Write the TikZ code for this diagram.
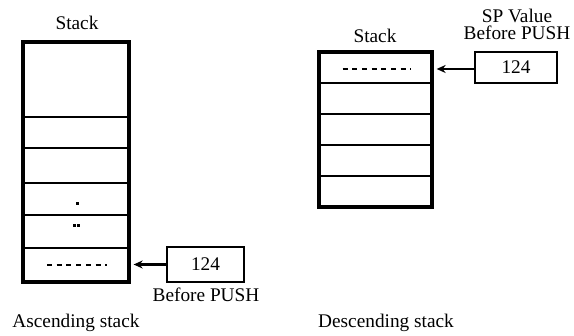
\documentclass[tikz,border=0pt]{standalone}
\usepackage{fontspec}
\setmainfont{Liberation Serif}
\usetikzlibrary{arrows.meta}
\begin{document}
\begin{tikzpicture}[x=1pt,y=-1pt,
  lbl/.style={inner sep=0pt,font=\fontsize{19.3}{22}\selectfont},
  cellL/.style={draw,line width=2.3pt,minimum width=106pt,inner sep=0pt},
  cellR/.style={draw,line width=2.3pt,minimum width=113pt,minimum height=31pt,inner sep=0pt},
  outer/.style={draw,line width=3.3pt,inner sep=0pt},
  valbox/.style={draw,line width=2.7pt,inner sep=0pt,font=\fontsize{19.3}{22}\selectfont},
  ptr/.style={line width=2.3pt,-{Stealth[length=9pt,width=8pt]}},
  dashline/.style={line width=2.3pt,dash pattern=on 5pt off 4.7pt}]
\useasboundingbox (0,0) rectangle (574,336);
% ---- Ascending stack ----
\node[lbl] (lt) at (77,23) {Stack};
\node[cellL,minimum height=75pt] (l1) at (76,79.5) {};
\node[cellL,minimum height=31pt] (l2) at (76,132.5) {};
\node[cellL,minimum height=35pt] (l3) at (76,165.5) {};
\node[cellL,minimum height=32pt] (l4) at (76,199) {};
\node[cellL,minimum height=33pt] (l5) at (76,231.5) {};
\node[cellL,minimum height=34pt] (l6) at (76,265) {};
\node[outer,minimum width=106pt,minimum height=240pt] (lo) at (76,162) {};
\fill (75.6,201.6) rectangle (78.6,204.6);
\fill (73.2,223.6) rectangle (76.2,226.6);
\fill (76.8,223.6) rectangle (79.8,226.6);
\draw[dashline] ([xshift=-29pt]l6.center) -- ([xshift=31pt]l6.center);
\node[valbox,minimum width=77pt,minimum height=35pt] (lb) at (205.5,264.5) {124};
\draw[ptr] (lb.west) -- ([xshift=3pt]lo.east |- lb.west);
\node[lbl] (lbp) at (206,295) {Before PUSH};
\node[lbl] (la) at (76,323) {Ascending stack};
% ---- Descending stack ----
\node[lbl] (rt) at (375,36) {Stack};
\node[cellR] (r1) at (375.5,67.5) {};
\node[cellR] (r2) at (375.5,98.5) {};
\node[cellR] (r3) at (375.5,129.5) {};
\node[cellR] (r4) at (375.5,160.5) {};
\node[cellR] (r5) at (375.5,191.5) {};
\node[outer,minimum width=113pt,minimum height=155pt] (ro) at (375.5,129.5) {};
\draw[dashline] ([xshift=-33pt,yshift=-1.5pt]r1.center) -- ([xshift=35pt,yshift=-1.5pt]r1.center);
\node[valbox,minimum width=82pt,minimum height=31pt] (rb) at (516,67.5) {124};
\draw[ptr] ([yshift=-1.5pt]rb.west) -- ([xshift=3pt,yshift=-1.5pt]ro.east |- rb.west);
\node[lbl,align=center,font=\fontsize{19.3}{17}\selectfont] (rsp) at (517,24) {SP Value\\Before PUSH};
\node[lbl] (rd) at (386,323) {Descending stack};
\end{tikzpicture}
\end{document}
